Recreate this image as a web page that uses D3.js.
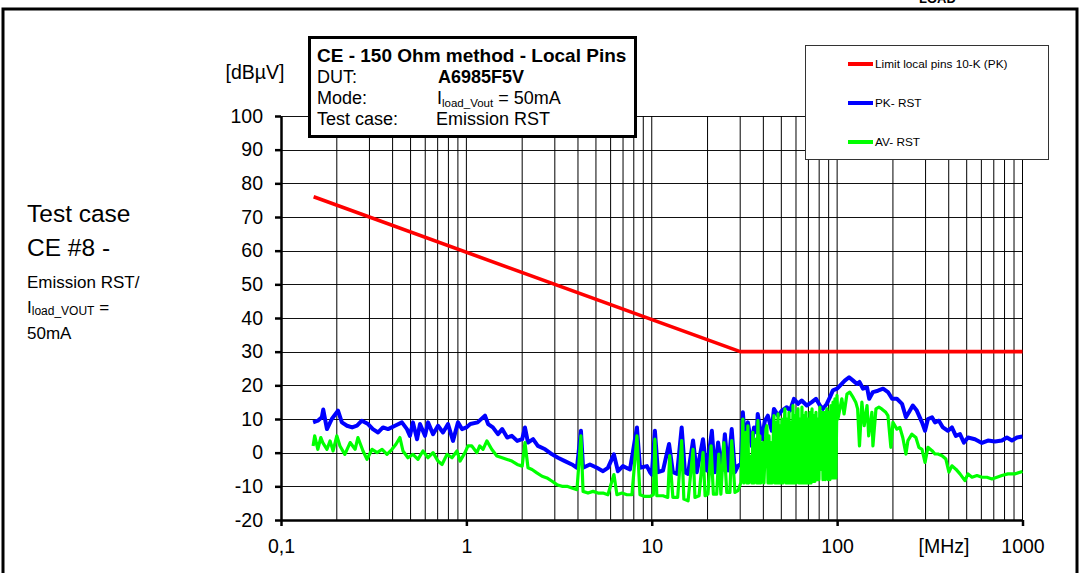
<!DOCTYPE html>
<html>
<head>
<meta charset="utf-8">
<script src="https://cdn.jsdelivr.net/npm/d3@7"></script>
<style>
  html, body { margin: 0; padding: 0; background: #fff; }
  svg { display: block; font-family: "Liberation Sans", Arial, sans-serif; }
</style>
</head>
<body>
<div id="chart"></div>
<script>
// tick values / labels
const yTicks = [-20, -10, 0, 10, 20, 30, 40, 50, 60, 70, 80, 90, 100];
const xTicks = [0.1, 1, 10, 100, 1000];
const xTickLabels = ['0,1', '1', '10', '100', '1000'];

// limit line (freq MHz, dBuV)
const limitData = [[0.15, 76], [30, 30], [1000, 30]];

// PK - RST
const pkData = [
  [0.149, 9], [0.158, 9.5], [0.166, 10.5], [0.169, 12.8], [0.177, 7], [0.188, 10], [0.203, 12.5], [0.213, 9],
  [0.227, 8], [0.242, 7.5], [0.257, 8], [0.273, 9.5], [0.295, 8.5], [0.313, 7], [0.334, 6], [0.355, 7.5],
  [0.378, 7], [0.412, 8], [0.449, 9], [0.478, 7], [0.496, 5], [0.515, 9], [0.542, 4], [0.562, 8.5],
  [0.598, 5], [0.621, 9], [0.661, 5.5], [0.703, 8], [0.748, 6], [0.796, 8.5], [0.847, 3.5], [0.901, 9],
  [0.947, 7], [1.0, 7.5], [1.05, 8.5], [1.15, 9], [1.26, 11], [1.31, 8.5], [1.39, 7.5], [1.48, 5.5],
  [1.56, 7], [1.66, 4.5], [1.76, 5], [1.88, 3.5], [2.0, 4], [2.07, 7.5], [2.15, 3], [2.29, 4], [2.43, 2],
  [2.66, 1], [2.9, -0.5], [3.12, -1.5], [3.4, -2.5], [3.71, -3.5], [3.95, -4.5], [4.15, 6.5], [4.26, -4.5],
  [4.64, -3.5], [5.06, -4.5], [5.46, -5.5], [5.8, -4.5], [6.25, -0.5], [6.57, -5.5], [6.99, -4], [7.63, -5],
  [8.32, 7.5], [8.64, -4.5], [9.42, -4], [9.78, -5.8], [10.0, -6.5], [10.4, 6.5], [10.8, -5.8], [11.5, -5.3],
  [12.4, 2.6], [13.0, -5.8], [13.7, -6.3], [14.5, 7.5], [15.1, -5.8], [15.7, -6.3], [16.7, 3.6], [17.5, -5.8],
  [18.9, 4], [19.8, -5.3], [21.1, 6.5], [21.9, -5.8], [22.8, 3], [23.9, -5.3], [24.8, 5.5], [25.8, -5.3],
  [27.0, 7], [28.1, -5.8], [29.2, -3.9], [30.3, -3.4], [31.0, 12], [31.8, 4], [33.0, 9], [34.6, 2],
  [35.6, 7.5], [36.9, 6], [37.3, 11.5], [39.2, 4], [40.8, 9.5], [42.3, 11], [44.4, 6.5], [45.6, 13],
  [48.0, 11], [50.3, 12.5], [53.5, 13.5], [55.7, 12.5], [58.5, 16], [61.5, 14.5], [64.4, 15.5], [68.6, 14],
  [73.0, 15], [76.9, 16], [80.8, 14], [83.8, 13], [87.9, 14.5], [91.5, 16.5], [94.9, 18.5], [100, 19],
  [104, 20], [110, 21.4], [116, 22.4], [122, 21.4], [128, 20.4], [132, 21], [138, 19], [145, 19.4],
  [149, 16], [156, 18], [166, 18.4], [177, 19], [188, 18], [198, 16], [210, 16], [224, 14.5], [235, 10.5],
  [244, 12], [256, 14], [269, 12.5], [287, 9], [298, 6.5], [309, 10], [325, 10.5], [337, 9], [354, 9.5],
  [372, 7.5], [396, 6.5], [416, 7.5], [437, 5], [460, 5.5], [483, 3], [508, 4.5], [554, 4], [604, 2.9],
  [651, 3.6], [710, 3.3], [774, 3.6], [824, 4.5], [877, 3.6], [933, 4.5], [1000, 4.8]
];

// AV - RST
const avData = [
  [0.149, 2], [0.152, 5], [0.158, 1], [0.164, 4.5], [0.168, 3], [0.177, 1], [0.184, 3.5], [0.191, 0.5],
  [0.2, 5], [0.208, 2], [0.221, -0.5], [0.236, 3], [0.251, 1], [0.26, 4.5], [0.277, 0.5], [0.291, -2],
  [0.31, 1], [0.33, 0], [0.351, 1], [0.373, -0.5], [0.397, 1], [0.417, 2.5], [0.438, 4.5], [0.455, 0.5],
  [0.484, -1.5], [0.515, -0.5], [0.548, -2], [0.583, 0.5], [0.621, -1.5], [0.661, 0], [0.703, -2.5],
  [0.739, -3.5], [0.786, -0.5], [0.836, -1.5], [0.89, 0.5], [0.924, -2.5], [0.983, 0], [1.02, 2], [1.07, 2],
  [1.14, 0], [1.18, 2], [1.23, 1], [1.29, 3.5], [1.37, 1], [1.46, -1], [1.56, -1.5], [1.66, -2], [1.76, -2.5],
  [1.88, -3.5], [2.0, -4], [2.07, 3], [2.15, -4.5], [2.26, -5], [2.4, -6], [2.56, -7], [2.72, -7.5],
  [2.9, -8.5], [3.08, -9.5], [3.28, -10], [3.49, -10], [3.71, -10.5], [3.95, -11], [4.15, 5], [4.26, -11.5],
  [4.53, -12], [4.82, -11.5], [5.13, -12], [5.46, -12], [5.8, -12.5], [6.25, -6.5], [6.49, -12.5], [6.91, -12],
  [7.35, -12.5], [7.82, -12.5], [8.32, 5], [8.64, -12.5], [9.19, -13], [9.78, -13], [10.2, -12.5], [10.4, 4],
  [10.65, -12.8], [11.5, -12.8], [12.2, -13.3], [12.5, -0.9], [13.0, -13.3], [13.8, -13.3], [14.5, 3.6],
  [14.9, -13.8], [15.7, -14.3], [16.7, 1], [17.1, -13.3], [18.0, -12.8], [18.9, 0], [19.4, -12.8],
  [20.1, -12.3], [20.9, 2], [21.5, -12.3], [22.4, -12.3], [23.0, -0.4], [23.6, -12.3], [24.5, 3],
  [25.4, -11.8], [26.4, -11.8], [27.0, 3.6], [28.1, -11.8], [29.2, -11.3], [30.3, -8.8], [31.0, 10],
  [31.4, -9], [32.2, 6], [32.6, -9], [33.0, 8], [33.4, -9], [34.3, -1], [34.7, -9], [35.1, 6], [35.6, -9],
  [36.5, 4], [36.9, -9], [37.4, 9.5], [37.9, -9], [38.3, 5], [38.8, -9], [39.8, 3], [40.3, -9], [41.3, 7],
  [41.8, 8], [42.4, -9], [42.9, 5], [43.4, -9], [44.0, 3], [44.5, -9], [45.6, 11], [46.2, -9], [46.8, 9],
  [47.4, -9], [48.0, 11.5], [48.6, -9], [49.2, 8], [49.8, -9], [50.4, 10], [51.0, -9], [51.7, 7], [52.3, 13],
  [53.0, -9], [53.6, 10], [54.3, -9], [55.0, 12], [55.7, -9], [56.4, 9], [57.1, -9], [57.8, 14], [58.5, -9],
  [59.2, 11], [60.0, -9], [60.7, 12], [61.5, 13], [62.3, -9], [63.0, 10], [63.8, -9], [64.6, 13.5],
  [65.4, -9], [66.2, 11], [67.1, -9], [67.9, 12], [68.8, -9], [69.6, 10], [70.5, -9], [71.4, 12], [72.3, -9],
  [73.2, 13], [74.1, -8.5], [75.0, 11], [75.9, -8.5], [76.9, 12], [77.8, -8], [78.8, 10], [79.8, -8],
  [80.8, 13.5], [81.8, -5], [82.8, 12], [83.9, -8], [84.9, 12], [86.0, -8], [87.1, 11], [88.1, 13],
  [89.2, -8], [90.4, 12], [91.5, -8], [92.6, 14], [93.8, -7.5], [95.0, 15], [96.1, -7.5], [97.3, 16],
  [98.5, -7.5], [99.8, 17], [101, 10], [106, 16], [109, 11.5], [113, 17.4], [117, 18], [122, 16.4],
  [126, 15], [129, 13], [132, 2], [136, 15], [140, 8], [145, 14], [148, 5], [154, 12], [156, 2], [162, 13],
  [168, 13.5], [174, 13], [183, 12], [188, 11], [195, 1.6], [200, 9], [210, 7], [218, 7.5], [226, 4.5],
  [235, -0.4], [241, 3.6], [253, 5.5], [266, 4.5], [276, 1.6], [287, 1], [298, -2.9], [309, 1.6], [325, 0.6],
  [337, -0.4], [350, -0.4], [368, -0.9], [386, -1.9], [401, -5.8], [416, -3.9], [437, -4.9], [460, -6.3],
  [489, -8.3], [508, -6.3], [534, -7.3], [568, -6.8], [604, -7.3], [643, -7.3], [684, -7.8], [728, -7.3],
  [774, -6.8], [834, -6.3], [910, -6.3], [1000, -5.6]
];

const series = [
  { name: 'Limit local pins 10-K (PK)', color: '#ff0000', width: 3.6, data: limitData },
  { name: 'PK- RST', color: '#0000ff', width: 4, data: pkData },
  { name: 'AV- RST', color: '#00ff00', width: 3.2, data: avData },
];

const width = 1080, height = 573;
const plot = { left: 281, right: 1022.5, top: 116, bottom: 520 };

const svg = d3.select('#chart').append('svg')
  .attr('width', width).attr('height', height);

// outer frame + caption that is cut by the top edge
svg.append('rect')
  .attr('x', 3).attr('y', 9).attr('width', 1074).attr('height', 620)
  .attr('fill', 'none').attr('stroke', '#000').attr('stroke-width', 3);
svg.append('text')
  .attr('x', 919).attr('y', 3)
  .attr('font-size', 13).attr('font-weight', 'bold')
  .text('LOAD');

const x = d3.scaleLog().domain([0.1, 1000]).range([plot.left, plot.right]);
const y = d3.scaleLinear().domain([-20, 100]).range([plot.bottom, plot.top]);

// grid
const grid = svg.append('g');
grid.selectAll('line.h')
  .data(yTicks.slice(1))
  .join('line')
  .attr('class', 'h')
  .attr('x1', plot.left).attr('x2', plot.right)
  .attr('y1', (d) => Math.round(y(d)) + 0.5).attr('y2', (d) => Math.round(y(d)) + 0.5)
  .attr('stroke', '#111').attr('stroke-width', 1);
grid.selectAll('line.v')
  .data(x.ticks().filter((d) => d > 0.1))
  .join('line')
  .attr('class', 'v')
  .attr('x1', (d) => x(d)).attr('x2', (d) => x(d))
  .attr('y1', plot.top).attr('y2', plot.bottom)
  .attr('stroke', '#000').attr('stroke-width', 1);

// axes
const axisFont = (g) => g.selectAll('text')
  .attr('font-size', 19.5).attr('fill', '#000')
  .attr('font-family', '"Liberation Sans", Arial, sans-serif');

svg.append('g')
  .attr('transform', `translate(${plot.left},0)`)
  .call(d3.axisLeft(y).tickValues(yTicks).tickSize(6).tickSizeOuter(0).tickPadding(12).tickFormat((d) => d))
  .call((g) => g.select('.domain').attr('stroke-width', 2.5))
  .call((g) => g.selectAll('.tick line').attr('stroke-width', 2.5))
  .call(axisFont);

svg.append('g')
  .attr('transform', `translate(0,${plot.bottom})`)
  .call(d3.axisBottom(x).tickValues(xTicks).tickSize(6).tickSizeOuter(0).tickPadding(13)
    .tickFormat((d, i) => xTickLabels[i]))
  .call((g) => g.select('.domain').attr('stroke-width', 2.5))
  .call((g) => g.selectAll('.tick line').attr('stroke-width', 2.5))
  .call(axisFont);

svg.append('text')
  .attr('x', 944).attr('y', 553).attr('text-anchor', 'middle')
  .attr('font-size', 19.5).text('[MHz]');
svg.append('text')
  .attr('x', 255).attr('y', 79).attr('text-anchor', 'middle')
  .attr('font-size', 19.5).text('[dBµV]');

// traces
const line = d3.line().x((d) => x(d[0])).y((d) => y(d[1]));
svg.append('g')
  .selectAll('path')
  .data(series)
  .join('path')
  .attr('d', (d) => line(d.data))
  .attr('fill', 'none')
  .attr('stroke', (d) => d.color)
  .attr('stroke-width', (d) => d.width)
  .attr('stroke-linejoin', 'round');

// info box
const info = svg.append('g');
info.append('rect')
  .attr('x', 309.5).attr('y', 37.5).attr('width', 326).attr('height', 99)
  .attr('fill', '#fff').attr('stroke', '#000').attr('stroke-width', 3);
info.append('text').attr('x', 317).attr('y', 62)
  .attr('font-size', 19).attr('font-weight', 'bold')
  .text('CE - 150 Ohm method - Local Pins');
const infoRows = [
  { label: 'DUT:', y: 83 },
  { label: 'Mode:', y: 104 },
  { label: 'Test case:', y: 125 },
];
info.selectAll('text.lbl')
  .data(infoRows)
  .join('text')
  .attr('class', 'lbl')
  .attr('x', 317).attr('y', (d) => d.y)
  .attr('font-size', 18)
  .text((d) => d.label);
info.append('text').attr('x', 438).attr('y', 83)
  .attr('font-size', 18).attr('font-weight', 'bold').text('A6985F5V');
const mode = info.append('text').attr('x', 437).attr('y', 104).attr('font-size', 18);
mode.append('tspan').text('I');
mode.append('tspan').attr('font-size', 11.5).attr('dy', 3).text('load_Vout');
mode.append('tspan').attr('dy', -3).text(' = 50mA');
info.append('text').attr('x', 436).attr('y', 125)
  .attr('font-size', 18).text('Emission RST');

// legend
const legend = svg.append('g');
legend.append('rect')
  .attr('x', 805.5).attr('y', 45.5).attr('width', 243).attr('height', 114)
  .attr('fill', '#fff').attr('stroke', '#333').attr('stroke-width', 1);
const legendY = [64, 103, 142];
const items = legend.selectAll('g.item')
  .data(series)
  .join('g')
  .attr('class', 'item')
  .attr('transform', (d, i) => `translate(0,${legendY[i]})`);
items.append('line')
  .attr('x1', 848).attr('x2', 873)
  .attr('stroke', (d) => d.color).attr('stroke-width', 4);
items.append('text')
  .attr('x', 875).attr('y', 4)
  .attr('font-size', 11.8)
  .text((d) => d.name);

// left side description
const side = svg.append('g').attr('fill', '#000');
side.append('text').attr('x', 27).attr('y', 222).attr('font-size', 24.5).text('Test case');
side.append('text').attr('x', 27).attr('y', 256).attr('font-size', 24.5).text('CE #8 -');
side.append('text').attr('x', 27).attr('y', 288).attr('font-size', 17).text('Emission RST/');
const iload = side.append('text').attr('x', 27).attr('y', 313).attr('font-size', 17);
iload.append('tspan').text('I');
iload.append('tspan').attr('font-size', 12).attr('dy', 2).text('load_VOUT');
iload.append('tspan').attr('dy', -2).text(' =');
side.append('text').attr('x', 27).attr('y', 339).attr('font-size', 17).text('50mA');
</script>
</body>
</html>
